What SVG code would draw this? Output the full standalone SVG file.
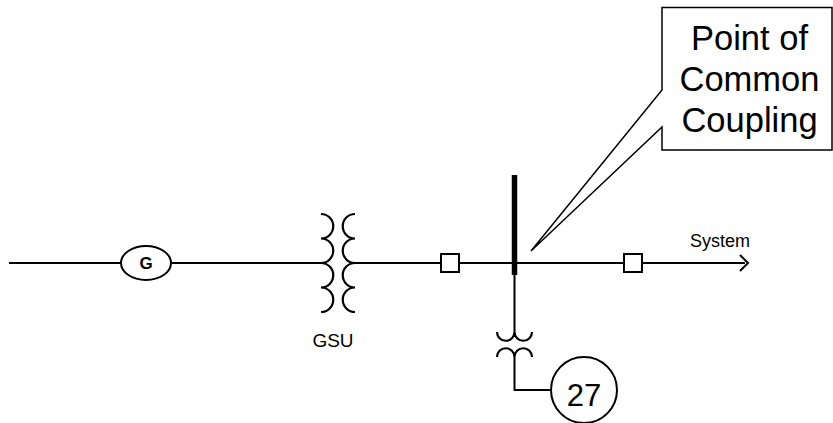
<svg xmlns="http://www.w3.org/2000/svg" width="833" height="423" viewBox="0 0 833 423">
<style>
.ln{fill:none;stroke:#000;stroke-width:2}
.coil{fill:none;stroke:#000;stroke-width:2.2}
.brk{fill:#fff;stroke:#000;stroke-width:2}
.lbl{font-family:"Liberation Sans",Arial,sans-serif;fill:#000}
</style>
<rect width="833" height="423" fill="#fff"/>
<g id="connectors">
<path class="ln" d="M9,263 H121"/>
<path class="ln" d="M171,263 H321"/>
<path class="ln" d="M355,263 H745"/>
<path class="ln" d="M740,255 L748,263 L740,271"/>
<path class="ln" d="M514.5,275 V332"/>
<path class="ln" d="M514.5,357 V390 H551"/>
</g>
<g id="generator">
<ellipse cx="146" cy="263" rx="25" ry="17" fill="#fff" stroke="#000" stroke-width="2"/>
<text class="lbl" x="146" y="269" font-size="17" font-weight="bold" text-anchor="middle">G</text>
</g>
<g id="gsu">
<path class="coil" d="M321,214 A12.25,12.25 0 0 1 321,238.5 A12.25,12.25 0 0 1 321,263 A12.25,12.25 0 0 1 321,287.5 A12.25,12.25 0 0 1 321,312"/>
<path class="coil" d="M355,214 A12.25,12.25 0 0 0 355,238.5 A12.25,12.25 0 0 0 355,263 A12.25,12.25 0 0 0 355,287.5 A12.25,12.25 0 0 0 355,312"/>
<text class="lbl" x="333" y="347" font-size="19" text-anchor="middle">GSU</text>
</g>
<g id="breaker1"><rect class="brk" x="441" y="254" width="18" height="18"/></g>
<g id="breaker2"><rect class="brk" x="624" y="254" width="18" height="18"/></g>
<g id="bus"><path d="M514.5,175 V275" stroke="#000" stroke-width="5.5" fill="none"/></g>
<g id="system"><text class="lbl" x="690" y="247" font-size="18">System</text></g>
<g id="pt">
<path class="coil" d="M497,332 A8.75,8.75 0 0 0 514.5,332 A8.75,8.75 0 0 0 532,332"/>
<path class="coil" d="M497,357 A8.75,8.75 0 0 1 514.5,357 A8.75,8.75 0 0 1 532,357"/>
</g>
<g id="relay27">
<circle cx="584" cy="390" r="33" fill="#fff" stroke="#000" stroke-width="2"/>
<text class="lbl" x="584" y="406" font-size="31" text-anchor="middle">27</text>
</g>
<g id="pcc-callout">
<path d="M662,7.5 H832 V150 H662 V127 L531,251 L662,90 Z" fill="#fff" stroke="#000" stroke-width="1.5" stroke-linejoin="miter"/>
<text class="lbl" font-size="34.5" text-anchor="middle"><tspan x="749.5" y="50">Point of</tspan><tspan x="749.5" y="91">Common</tspan><tspan x="749.5" y="132">Coupling</tspan></text>
</g>
</svg>
